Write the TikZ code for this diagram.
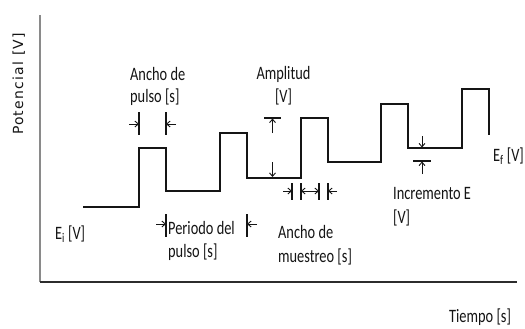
\documentclass[tikz,border=0pt]{standalone}
\usepackage{fontspec}
\setmainfont{Carlito}
\newfontfamily\axisfont[LetterSpace=9]{DejaVu Sans}
\usetikzlibrary{arrows.meta}
\definecolor{ink}{HTML}{151515}
\definecolor{axisgray}{HTML}{8A8A8A}
\begin{document}
\begin{tikzpicture}[x=1bp,y=-1bp,
  wave/.style={draw=ink,line width=1.8bp,line join=miter},
  dimline/.style={draw=ink,line width=1.1bp},
  dimarrow/.style={draw=ink,line width=0.9bp,-{Straight Barb[length=3.5bp,width=6bp]}},
  lbl/.style={font=\fontsize{19}{23}\selectfont,text=ink,inner sep=0pt,xscale=0.76,anchor=base west},
  lblc/.style={lbl,anchor=base}]
% canvas
\path[fill=white,use as bounding box] (0,0) rectangle (525,328);

% axes
\coordinate (origin) at (40,282);
\coordinate (ytop) at (40,15);
\coordinate (xend) at (517,282);
\draw[axisgray,line width=2bp] (origin) -- (ytop);
\draw[ink!90,line width=2.4bp] (origin) -- (xend);
\node[font=\axisfont\fontsize{14}{16}\selectfont,text=ink,rotate=90,inner sep=0pt,anchor=base] (ylab) at (23,84) {Potencial [V]};
\node[lbl] (xlab) at (449,322) {Tiempo [s]};

% staircase of pulses
\draw[wave] (83,207) -- (139,207) -- (139,148) -- (166,148) -- (166,191)
  -- (220,191) -- (220,133) -- (247,133) -- (247,178)
  -- (301,178) -- (301,118) -- (328,118) -- (328,162)
  -- (381,162) -- (381,104) -- (408,104) -- (408,148)
  -- (462,148) -- (462,89) -- (489,89) -- (489,135);

% pulse width
\draw[dimline] (139,112) -- (139,135);
\draw[dimline] (166,112) -- (166,135);
\draw[dimarrow] (129,124) -- (139,124);
\draw[dimarrow] (176,124) -- (166,124);
\node[lbl] (pw1) at (130,80) {Ancho de};
\node[lbl] (pw2) at (130,102) {pulso [s]};

% pulse period
\draw[dimline] (166,214) -- (166,237);
\draw[dimline] (247,214) -- (247,237);
\draw[dimarrow] (156,224) -- (166,224);
\draw[dimarrow] (257,224) -- (247,224);
\node[lbl] (pp1) at (168,234) {Periodo del};
\node[lbl] (pp2) at (168,257) {pulso [s]};

% amplitude
\draw[dimline] (264,118) -- (281,118);
\draw[dimarrow] (272.5,133) -- (272.5,118.5);
\draw[dimarrow] (272.5,162) -- (272.5,177);
\node[lblc] (am1) at (283.5,79) {Amplitud};
\node[lblc] (am2) at (283.5,102) {[V]};

% sampling width
\draw[dimline] (292,183) -- (292,200);
\draw[dimline] (301,183) -- (301,200);
\draw[dimline] (319,183) -- (319,200);
\draw[dimline] (328,183) -- (328,200);
\draw[dimarrow] (283,191) -- (292,191);
\draw[dimarrow] (310,191) -- (301,191);
\draw[dimarrow] (310,191) -- (319,191);
\draw[dimarrow] (337,191) -- (328,191);
\node[lbl] (sw1) at (278,238) {Ancho de};
\node[lbl] (sw2) at (278,262) {muestreo [s]};

% step increment
\draw[dimarrow] (422,136) -- (422,147.5);
\draw[dimline] (413,161) -- (431,161);
\draw[dimarrow] (422,174) -- (422,161.5);
\node[lbl] (inc1) at (393,199) {Incremento E};
\node[lbl] (inc2) at (393,223) {[V]};

% start and end potentials
\node[lbl] (ei) at (55,239) {E\textsubscript{i} [V]};
\node[lbl] (ef) at (493,161) {E\textsubscript{f} [V]};
\end{tikzpicture}
\end{document}
